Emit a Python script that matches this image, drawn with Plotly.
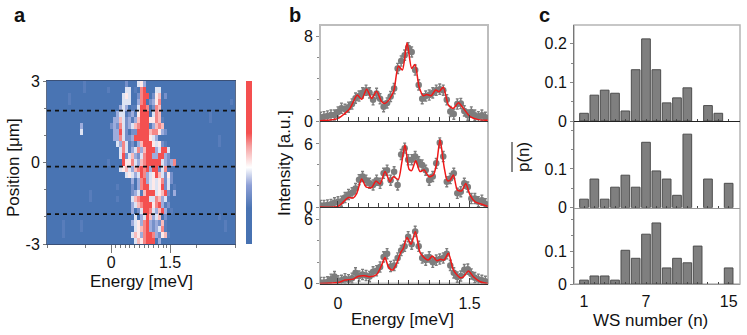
"""
Panels a, b, c: position map, three spectra, three WS number histograms
"""

import plotly.graph_objects as go

FONT = 'Liberation Sans'
W, H = 747, 335

#> panel a: map read by eye, one string per row from top to bottom, '.' is background
heat_rows = [
    "............1.............2...453",
    "............1.......1.....44.1.78...44",
    ".......1.................454..2798.256.2",
    ".......1.................444..378.2357.......................1",
    "........................343.114887.276",
    ".......................34412315899.476................1",
    "......................33642313689955761...............1",
    "...........3.........232742346799913676",
    "...........4..........33842.228999677532",
    "......................337422388898543....................1",
    ".......................437412.3689954521.................1",
    "........................47413473689934894",
    "........................48246324789338932",
    "....................1....855743679989943237",
    "........................45643678783982471",
    "..........................4543487345864252",
    "............................3.378345457242",
    ".......................1....2.37884545824.1",
    "..............1.............2341689845682.3",
    "..............1........1....4679894476341",
    "............................3467899578312",
    "............................3.2488743683.1",
    ".............................4.3486346.2.................1",
    ".....1.....1................345378323261...................1",
    ".....1.....1.................45679323471...................1",
    ".....1......................4653789732561",
    ".............................4657898.3",
]
heat_cols = 63
cut_positions = [1.91, -0.15, -1.9]
a_minor_x = [-1.63, -0.65, 0.12, 0.24, 0.36, 0.48, 0.6, 0.72, 0.84, 0.96, 1.08, 1.2, 1.32, 1.42, 2.17, 3.15]
colors_map = [[0, '#4671b1'], [0.22, '#4a74b3'], [0.36, '#8d9fd6'], [0.47, '#ffffff'],
              [0.6, '#f6a0a0'], [0.68, '#f45050'], [1, '#f44f4f']]

#> panel b: measured points
energy = [-0.2, -0.16, -0.12, -0.08, -0.04, 0, 0.04, 0.08, 0.12, 0.16, 0.2, 0.24, 0.28, 0.32, 0.36, 0.4,
          0.44, 0.48, 0.52, 0.56, 0.6, 0.64, 0.68, 0.72, 0.76, 0.8, 0.84, 0.88, 0.92, 0.96, 1.0, 1.04,
          1.08, 1.12, 1.16, 1.2, 1.24, 1.28, 1.32, 1.36, 1.4, 1.44, 1.48, 1.52, 1.56, 1.6, 1.64, 1.68]
points_top = [0.35, 0.4, 0.47, 0.56, 0.56, 0.85, 1.2, 1.1, 1.3, 1.6, 2.15, 2.35, 2.65, 2.9, 2.65, 2.0,
              2.6, 2.1, 1.35, 1.7, 2.3, 3.05, 4.95, 5.65, 6.2, 6.9, 6.5, 4.8, 3.4, 2.1, 2.35, 2.45,
              2.65, 2.9, 3.0, 2.9, 2.0, 0.9, 0.65, 1.6, 1.65, 0.95, 0.55, 0.85, 0.55, 0.4, 0.55, 0.35]
points_mid = [0.15, 0.15, 0.2, 0.25, 0.4, 0.5, 0.55, 0.9, 1.2, 1.35, 1.75, 2.6, 2.9, 2.55, 2.25, 2.1,
              2.55, 2.25, 3.2, 3.5, 2.55, 3.35, 2.1, 5.0, 5.6, 4.5, 4.5, 4.8, 4.3, 4.0, 3.5, 2.55,
              2.9, 4.15, 6.1, 4.8, 2.4, 2.7, 3.2, 1.3, 1.45, 2.25, 1.9, 0.8, 0.8, 0.5, 0.65, 0.3]
points_bot = [0.1, 0.1, 0.15, 0.4, 0.65, 0.25, 0.3, 0.45, 0.35, 0.5, 1.0, 0.7, 0.85, 0.75, 0.65, 1.1,
              1.2, 1.55, 2.5, 2.8, 1.6, 1.7, 2.4, 3.1, 3.5, 4.4, 3.7, 4.9, 3.5, 2.4, 2.2, 2.5,
              2.0, 2.2, 2.3, 2.4, 2.8, 1.7, 1.0, 0.6, 0.7, 1.3, 1.35, 0.9, 0.55, 0.4, 0.3, 0.2]
points_err = 0.48

#> panel b: red fits
fit_top_x = [-0.205, -0.09, 0, 0.08, 0.137, 0.175, 0.22, 0.27, 0.327, 0.384, 0.44, 0.498, 0.536, 0.593, 0.639,
             0.688, 0.734, 0.787, 0.84, 0.878, 0.924, 0.973, 1.011, 1.061, 1.114, 1.152, 1.2, 1.259, 1.316,
             1.373, 1.43, 1.506, 1.6, 1.707]
fit_top_y = [0.03, 0.09, 0.25, 0.72, 1.19, 1.82, 2.45, 2.04, 2.98, 2.13, 2.79, 1.82, 1.66, 2.13, 2.92,
             5.17, 4.8, 7.37, 4.95, 5.33, 3.23, 2.38, 2.5, 2.38, 2.92, 2.76, 3.17, 1.5, 1.19,
             1.72, 1.19, 0.41, 0.13, 0.06]
fit_mid_x = [-0.205, 0, 0.08, 0.118, 0.175, 0.213, 0.27, 0.319, 0.384, 0.433, 0.479, 0.536, 0.593, 0.631, 0.688,
             0.726, 0.764, 0.81, 0.84, 0.886, 0.935, 0.981, 1.038, 1.087, 1.125, 1.163, 1.209, 1.247, 1.278,
             1.316, 1.361, 1.411, 1.456, 1.506, 1.563, 1.639, 1.707]
fit_mid_y = [0, 0.06, 0.64, 0.9, 0.87, 1.28, 2.66, 1.92, 1.86, 2.47, 2.18, 3.37, 2.4, 2.88, 2.63,
             4.17, 5.93, 3.59, 3.46, 4.39, 3.37, 3.53, 2.88, 3.04, 4.17, 6.41, 3.85, 2.5, 2.56,
             3.04, 1.6, 1.54, 2.24, 1.12, 0.48, 0.26, 0.06]
fit_bot_x = [-0.205, 0, 0.08, 0.175, 0.232, 0.308, 0.365, 0.441, 0.498, 0.536, 0.574, 0.62, 0.669, 0.715, 0.745,
             0.787, 0.833, 0.882, 0.935, 0.992, 1.03, 1.076, 1.125, 1.171, 1.209, 1.259, 1.316, 1.392, 1.43,
             1.487, 1.544, 1.62, 1.707]
fit_bot_y = [0, 0.09, 0.32, 0.41, 0.69, 0.73, 0.63, 0.85, 1.73, 2.44, 1.58, 1.26, 1.89, 2.93, 3.31,
             4.32, 3.69, 4.89, 2.93, 2.37, 2.21, 2.59, 2.15, 2.27, 2.21, 2.84, 1.26, 0.54, 0.63,
             1.17, 0.63, 0.16, 0]
b_minor_x = [0.115, 0.231, 0.346, 0.462, 0.577, 0.692, 0.808, 0.923, 1.038, 1.154, 1.269, 1.385]

#> panel c: histograms, None where no bar is drawn
ws_number = [1, 2, 3, 4, 5, 6, 7, 8, 9, 10, 11, 12, 13, 14, 15]
hist_top = [0.02, 0.067, 0.08, 0.072, 0.026, 0.133, 0.213, 0.133, 0.047, 0.06, 0.086, None, 0.04, 0.02, None]
hist_mid = [0.022, 0.074, 0.022, 0.053, 0.084, 0.053, 0.169, 0.095, 0.074, 0.032, 0.19, None, 0.074, None, 0.063]
hist_bot = [0.012, 0.025, 0.025, 0.012, 0.105, 0.08, 0.155, 0.19, 0.05, 0.08, 0.066, 0.118, None, None, 0.05]

fig = go.Figure()

#> a
z = []
for r in heat_rows:
    r = r.ljust(heat_cols, '.')
    z.append([0 if c == '.' else int(c) for c in r])
fig.add_trace(go.Heatmap(
    z=z, x0=-1.592, dx=0.0763, y0=2.889, dy=-0.2222, zmin=-3, zmax=13,
    colorscale=colors_map, xaxis='x', yaxis='y',
    colorbar=dict(x=246/W, xanchor='left', y=1-81/H, yanchor='top', len=163/H,
                  thickness=6, outlinewidth=0, ticks='', showticklabels=False, xpad=0, ypad=0)))
for p in cut_positions:
    fig.add_trace(go.Scatter(x=[-1.63, 3.15], y=[p, p], mode='lines', xaxis='x', yaxis='y',
                             line=dict(color='#111111', width=1.6, dash='4px,4px')))

#> b
b_sets = [(points_top, fit_top_x, fit_top_y), (points_mid, fit_mid_x, fit_mid_y), (points_bot, fit_bot_x, fit_bot_y)]
for i, (pts, fx, fy) in enumerate(b_sets):
    xn, yn = 'x%d' % (i+2), 'y%d' % (i+2)
    fig.add_trace(go.Scatter(x=energy, y=pts, mode='markers', xaxis=xn, yaxis=yn,
                             marker=dict(color='#7d7d7d', size=6.5),
                             error_y=dict(type='constant', value=points_err, color='#7d7d7d', thickness=1.4, width=1.5)))
    fig.add_trace(go.Scatter(x=fx, y=fy, mode='lines', xaxis=xn, yaxis=yn,
                             line=dict(color='#f01818', width=1.5, shape='spline', smoothing=0.7)))

#> c
for i, h in enumerate([hist_top, hist_mid, hist_bot]):
    fig.add_trace(go.Bar(x=ws_number, y=h, xaxis='x%d' % (i+5), yaxis='y%d' % (i+5), width=0.84,
                         marker=dict(color='#7f7f7f', line=dict(color='#4d4d4d', width=1))))

axis_font = dict(family=FONT, size=16, color='#111111')
layout = dict(width=W, height=H, margin=dict(l=0, r=0, t=0, b=0), showlegend=False,
              paper_bgcolor='white', plot_bgcolor='white', font=axis_font)


def dom(top, bottom):
    return [1-bottom/H, 1-top/H]


layout['xaxis'] = dict(domain=[47/W, 235/W], range=[-1.63, 3.15], anchor='y', tickvals=[0, 1.5], automargin=False,
                       ticktext=['0', '1.5'], ticks='outside', ticklen=8, tickcolor='#777777', showgrid=False,
                       zeroline=False, showline=True, linecolor='#3a5078', linewidth=1, mirror=True,
                       minor=dict(tickvals=a_minor_x, ticks='outside', ticklen=3, tickcolor='#777777'),
                       tickfont=axis_font, ticklabelstandoff=-4)
layout['yaxis'] = dict(domain=dom(81, 244), range=[-3, 3], anchor='x', tickvals=[-3, 0, 3], automargin=False,
                       ticktext=['-3', '0', '3'], ticks='outside', ticklen=3, tickcolor='#777777', showgrid=False,
                       zeroline=False, showline=True, linecolor='#5d6b85', linewidth=1, mirror=True,
                       minor=dict(tickvals=[-2, -1, 1, 2], ticks='outside', ticklen=2, tickcolor='#777777'),
                       tickfont=axis_font)

b_ranges = [(25, 121, [0, 9.04], [0, 8], [2, 4, 6]), (125, 207, [0, 7.8], [0, 6], [2, 4]), (208, 283.5, [0, 7.1], [0, 6], [2, 4])]
for i, (t, b, r, lab, mnr) in enumerate(b_ranges):
    n = i+2
    layout['xaxis%d' % n] = dict(domain=[320/W, 488/W], range=[-0.205, 1.71], anchor='y%d' % n, showgrid=False,
                                 zeroline=False, showline=True, linecolor='#333333', linewidth=1, automargin=False,
                                 tickvals=[0, 1.5], ticktext=['0', '1.5'], ticks='inside', ticklen=6,
                                 tickcolor='#444444', showticklabels=(i == 2),
                                 minor=dict(tickvals=b_minor_x, ticks='inside', ticklen=4, tickcolor='#444444'),
                                 tickfont=axis_font, ticklabelstandoff=5)
    layout['yaxis%d' % n] = dict(domain=dom(t, b), range=r, anchor='x%d' % n, showgrid=False, zeroline=False,
                                 showline=False, tickvals=lab, ticks='outside', ticklen=3, tickcolor='#888888',
                                 minor=dict(tickvals=mnr, ticks='outside', ticklen=2, tickcolor='#888888'),
                                 tickfont=axis_font, automargin=False)

c_ranges = [(25, 121, [0, 0.249], [0, 0.1, 0.2], ['0', '0.1', '0.2'], [0.05, 0.15], '#222222'),
            (121, 207.7, [0, 0.224], [0, 0.1], ['0', '0.1'], [0.05, 0.15, 0.2], '#999999'),
            (207.7, 284, [0, 0.2375], [0, 0.1], ['0', '0.1'], [0.05, 0.15, 0.2], '#999999')]
for i, (t, b, r, lab, txt, mnr, col) in enumerate(c_ranges):
    n = i+5
    layout['xaxis%d' % n] = dict(domain=[574/W, 740/W], range=[0.03, 16.1], anchor='y%d' % n, showgrid=False,
                                 zeroline=False, showline=True, linecolor=col, linewidth=1, automargin=False,
                                 tickvals=ws_number, ticktext=['1', '', '', '', '', '', '7', '', '', '', '', '', '', '', '15'],
                                 ticks='inside', ticklen=2, tickcolor='#444444', showticklabels=(i == 2),
                                 tickfont=axis_font, ticklabelstandoff=3)
    layout['yaxis%d' % n] = dict(domain=dom(t, b), range=r, anchor='x%d' % n, showgrid=False, zeroline=False,
                                 showline=True, linecolor='#777777', linewidth=1, tickvals=lab, ticktext=txt,
                                 ticks='outside', ticklen=3, tickcolor='#888888', automargin=False,
                                 minor=dict(tickvals=mnr, ticks='outside', ticklen=2, tickcolor='#888888'),
                                 tickfont=axis_font)

#> frames and overline of p(n)
frame = dict(type='rect', xref='paper', yref='paper', layer='below', line=dict(color='#bdbdbd', width=2))
layout['shapes'] = [
    dict(frame, x0=320/W, x1=488/W, y0=1-283.5/H, y1=1-25/H),
    dict(frame, x0=574/W, x1=740/W, y0=1-284/H, y1=1-25/H, line=dict(color='#b5b5b5', width=1.5)),
    dict(type='line', xref='paper', yref='paper', x0=512/W, x1=512/W, y0=1-172/H, y1=1-142/H,
         line=dict(color='#111111', width=1)),
]


def label(x, y, text, size=17, angle=0, bold=False):
    t = '<b>%s</b>' % text if bold else text
    return dict(xref='paper', yref='paper', x=x/W, y=1-y/H, text=t, showarrow=False, textangle=angle,
                xanchor='center', yanchor='middle', font=dict(family=FONT, size=size, color='#111111'))


layout['annotations'] = [
    label(20, 15, 'a', 20, bold=True),
    label(295, 15, 'b', 20, bold=True),
    label(544, 15, 'c', 20, bold=True),
    label(141, 281, 'Energy [meV]'),
    label(402, 319, 'Energy [meV]'),
    label(650, 320, 'WS number (n)'),
    label(13, 168, 'Position [μm]', angle=-90),
    label(284, 163, 'Intensity [a.u.]', angle=-90),
    label(523, 157, 'p(n)', angle=-90),
]

fig.update_layout(**layout)
fig.write_html('out.html', post_script="document.body.style.margin='0';", config=dict(displayModeBar=False))
